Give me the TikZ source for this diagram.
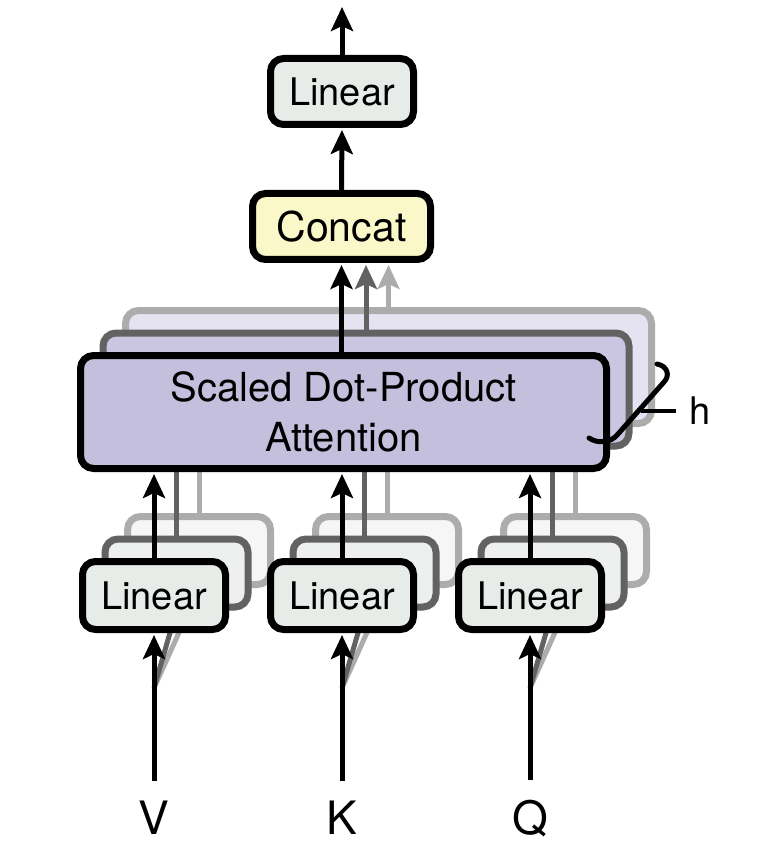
\documentclass[tikz,border=0pt]{standalone}
\usepackage{fontspec}
\setmainfont{TeX Gyre Heros}
\usetikzlibrary{arrows.meta}
\pgfdeclarelayer{back}
\pgfdeclarelayer{mid}
\pgfdeclarelayer{front}
\pgfsetlayers{back,mid,main,front}
\definecolor{linfill}{RGB}{232,236,233}
\definecolor{linfillb}{RGB}{237,240,238}
\definecolor{linfillc}{RGB}{245,246,245}
\definecolor{catfill}{RGB}{250,248,200}
\definecolor{attfill}{RGB}{196,191,221}
\definecolor{attfillb}{RGB}{202,198,226}
\definecolor{attfillc}{RGB}{229,227,241}
\definecolor{edgeb}{RGB}{98,98,98}
\definecolor{edgec}{RGB}{172,172,172}
\begin{document}
\begin{tikzpicture}[x=1pt,y=-1pt,
  box/.style={draw=black,line width=7pt,rounded corners=13pt,inner sep=0pt,
    font=\fontsize{38}{49}\selectfont,align=center},
  linbox/.style={box,fill=linfill,minimum width=143pt,minimum height=68pt},
  linboxb/.style={box,draw=edgeb,fill=linfillb,minimum width=143pt,minimum height=68pt},
  linboxc/.style={box,draw=edgec,fill=linfillc,minimum width=143pt,minimum height=68pt},
  attbox/.style={box,fill=attfill,minimum width=526pt,minimum height=113pt,
    font=\fontsize{40}{50}\selectfont},
  attboxb/.style={box,draw=edgeb,fill=attfillb,minimum width=526pt,minimum height=113pt},
  attboxc/.style={box,draw=edgec,fill=attfillc,minimum width=526pt,minimum height=113pt},
  tipped/.style={line width=5pt,-{Stealth[length=24pt,width=22pt,inset=5pt]},shorten >=2pt},
  plain/.style={line width=5pt},
  lab/.style={inner sep=0pt,font=\fontsize{46}{50}\selectfont,anchor=base},
]
\useasboundingbox (0,0) rectangle (762,866);

% back layer: stacked copies
\begin{pgfonlayer}{back}
  \node[attboxc] (att3) at (388.5,367) {};
  \node[attboxb] (att2) at (366,389.5) {};
  \foreach \n/\x in {V/154,K/342,Q/530}{
    \node[linboxc] (lin\n3) at (\x+45,550.5) {};
  }
  \foreach \n/\x in {V/154,K/342,Q/530}{
    \node[linboxb] (lin\n2) at (\x+22.5,573) {};
  }
\end{pgfonlayer}

% main layer: front boxes
\node[attbox] (att) at (343.5,412) {Scaled Dot-Product\\Attention};
\foreach \n/\x in {V/154,K/342,Q/530}{
  \node[linbox] (lin\n) at (\x,595.5) {Linear};
}
\node[box,fill=catfill,minimum width=178pt,minimum height=66pt,
  font=\fontsize{41}{49}\selectfont] (concat) at (341.5,226.5) {Concat};
\node[box,fill=linfill,minimum width=143pt,minimum height=66pt] (toplin) at (342,91.5) {Linear};

% labels
\node[lab] (labV) at (154,834) {V};
\node[lab] (labK) at (342,834) {K};
\node[lab] (labQ) at (530,834) {Q};
\node[inner sep=0pt,inner xsep=13pt,font=\fontsize{38}{40}\selectfont,anchor=west] (hlab) at (676,411) {h};
\coordinate (out) at (342,5);

% mid layer: hidden connectors of the back copies
\begin{pgfonlayer}{mid}
  \foreach \n in {V,K,Q}{
    \draw[plain,edgec] (lin\n3.north) -- (lin\n3.north |- att3.south);
    \draw[plain,edgeb] (lin\n2.north) -- (lin\n2.north |- att2.south);
    \coordinate (split\n) at ([yshift=-55pt]lin\n.south);
    \draw[plain,edgec] (split\n) -- (lin\n3.south);
    \draw[plain,edgeb] (split\n) -- (lin\n2.south);
  }
\end{pgfonlayer}

% front layer: visible connectors
\begin{pgfonlayer}{front}
  \foreach \n in {V,K,Q}{
    \draw[tipped,shorten <=19pt] (lab\n.north) -- (lin\n.south);
    \draw[tipped] (lin\n.north) -- (lin\n.north |- att.south);
  }
  \draw[tipped] (concat.south |- att.north) -- (concat.south);
  \draw[tipped,edgeb] (att2.north) -- (att2.north |- concat.south);
  \draw[tipped,edgec] (att3.north) -- (att3.north |- concat.south);
  \draw[tipped] (concat.north) -- (toplin.south);
  \draw[tipped] (toplin.north) -- (out);
  % brace for h
  \draw[plain,line cap=round,line join=round]
    (657,364) .. controls (668,366) and (670,376) .. (664,382)
    -- (618,434) .. controls (611,443) and (598,444) .. (589,438);
  \coordinate (bracemid) at (641,411);
  \draw[line width=3.5pt] (bracemid) -- (hlab.west);
\end{pgfonlayer}
\end{tikzpicture}
\end{document}
